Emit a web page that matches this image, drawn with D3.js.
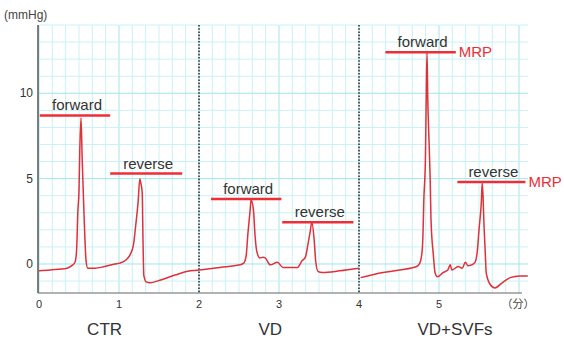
<!DOCTYPE html>
<html>
<head>
<meta charset="utf-8">
<script src="https://cdn.jsdelivr.net/npm/d3@7"></script>
<style>
  body { margin: 0; background: #fff; }
  text { font-family: "Liberation Sans", Arial, sans-serif; }
</style>
</head>
<body>
<script>
const width = 564, height = 340;

// trace values: [minutes, mmHg]
const ctrTrace = [[0,-0.4],[0.14,-0.35],[0.35,-0.25],[0.41,-0.1],[0.45,0.1],[0.47,0.8],[0.485,3.0],[0.5,4.3],[0.51,6.7],[0.525,8.55],[0.54,6.1],[0.55,4.7],[0.565,2.6],[0.59,0.1],[0.61,-0.25],[0.7,-0.25],[0.82,-0.15],[0.95,0],[1.01,0.05],[1.09,0.25],[1.14,0.55],[1.18,1.1],[1.21,2.3],[1.24,3.7],[1.26,5.0],[1.27,4.8],[1.29,4.2],[1.3,1.4],[1.31,-0.65],[1.34,-1.05],[1.39,-1.1],[1.51,-0.95],[1.7,-0.65],[1.89,-0.4],[2.01,-0.35]];
const vdTrace = [[2.01,-0.35],[2.26,-0.2],[2.51,-0.05],[2.56,0.05],[2.59,0.5],[2.61,1.7],[2.64,3.2],[2.65,3.75],[2.68,3.2],[2.7,1.7],[2.72,0.8],[2.76,0.35],[2.8,0.4],[2.83,0.35],[2.89,-0.05],[2.98,0.1],[3.05,-0.2],[3.23,-0.2],[3.29,0.2],[3.33,0.4],[3.36,1.1],[3.39,1.9],[3.41,2.45],[3.44,1.4],[3.46,0.1],[3.49,-0.45],[3.54,-0.5],[3.76,-0.4],[4.0,-0.25]];
const svfTrace = [[4.02,-0.8],[4.3,-0.5],[4.51,-0.35],[4.72,-0.15],[4.76,0.05],[4.79,0.8],[4.8,1.8],[4.81,3.7],[4.83,6.1],[4.84,9.6],[4.85,12.4],[4.86,9.6],[4.875,7.25],[4.89,4.9],[4.9,2.6],[4.93,0.5],[4.95,-0.5],[4.98,-0.75],[5.05,-0.5],[5.11,-0.35],[5.14,-0.05],[5.16,-0.35],[5.24,-0.15],[5.29,-0.25],[5.33,0.1],[5.36,-0.1],[5.41,-0.05],[5.45,0.1],[5.48,0.8],[5.5,2.0],[5.53,3.7],[5.54,4.75],[5.55,4.05],[5.56,2.6],[5.58,0.5],[5.59,-0.5],[5.64,-1.2],[5.7,-1.4],[5.79,-1.1],[5.89,-0.8],[6.01,-0.7],[6.11,-0.7]];

// annotation bars: label, from, to, level, mrp?
const marks = [
  ["forward", 0.01, 0.89, 8.7, false],
  ["reverse", 0.89, 1.79, 5.3, false],
  ["forward", 2.15, 3.03, 3.8, false],
  ["reverse", 3.04, 3.93, 2.45, false],
  ["forward", 4.33, 5.21, 12.4, true],
  ["reverse", 5.23, 6.08, 4.8, true]
];

const xTicks = [0, 1, 2, 3, 4, 5];
const yTicks = [0, 5, 10];
const dividers = [2, 4];
const groups = [["CTR", 0.82], ["VD", 2.89], ["VD+SVFs", 5.2]];

const pLeft = 39, pRight = 528, pTop = 25, pBottom = 293;
const x = d3.scaleLinear().domain([0, 1]).range([pLeft, pLeft + 80]);
const y = d3.scaleLinear().domain([-1.7, 14]).range([pBottom, pTop]);
const tMax = x.invert(pRight);

const svg = d3.select("body").append("svg")
    .attr("width", width)
    .attr("height", height)

// grid
const minor = d3.range(0, tMax, 1 / 6);
svg.append("g").selectAll("line")
    .data(minor)
    .enter()
    .append("line")
    .attr("x1", d => x(d)).attr("x2", d => x(d))
    .attr("y1", pTop).attr("y2", pBottom)
    .attr("stroke", d => Math.abs(d - Math.round(d)) < 0.01 ? "#9fe6ec" : "#c8f2f5")
    .attr("stroke-width", 1)
svg.append("g").selectAll("line")
    .data(d3.range(-1, 15, 1))
    .enter()
    .append("line")
    .attr("x1", pLeft).attr("x2", pRight)
    .attr("y1", d => y(d)).attr("y2", d => y(d))
    .attr("stroke", d => d % 5 === 0 ? "#9fe6ec" : "#c8f2f5")
    .attr("stroke-width", 1)

// dotted dividers
svg.append("g").selectAll("line")
    .data(dividers)
    .enter()
    .append("line")
    .attr("x1", d => x(d)).attr("x2", d => x(d))
    .attr("y1", pTop).attr("y2", pBottom)
    .attr("stroke", "#333")
    .attr("stroke-width", 1.6)
    .attr("stroke-dasharray", "1.6,1.6")

// axes lines
svg.append("line")
    .attr("x1", pLeft - 1).attr("x2", pLeft - 1)
    .attr("y1", pTop).attr("y2", pBottom)
    .attr("stroke", "#555").attr("stroke-width", 1.5)
svg.append("line")
    .attr("x1", pLeft - 1).attr("x2", pRight - 6)
    .attr("y1", pBottom).attr("y2", pBottom)
    .attr("stroke", "#666").attr("stroke-width", 1.2)

// tick labels
svg.append("g").selectAll("text")
    .data(yTicks)
    .enter()
    .append("text")
    .attr("x", pLeft - 6)
    .attr("y", d => y(d) + 4)
    .attr("text-anchor", "end")
    .attr("font-size", 12)
    .attr("fill", "#333")
    .text(d => d)
svg.append("g").selectAll("text")
    .data(xTicks)
    .enter()
    .append("text")
    .attr("x", d => x(d))
    .attr("y", pBottom + 15)
    .attr("text-anchor", "middle")
    .attr("font-size", 11)
    .attr("fill", "#333")
    .text(d => d)
svg.append("text")
    .attr("x", 518).attr("y", pBottom + 15)
    .attr("text-anchor", "middle")
    .attr("font-size", 11)
    .attr("fill", "#444")
    .style("font-family", "'Noto Sans CJK JP', sans-serif")
    .text("（分）")
svg.append("text")
    .attr("x", 4).attr("y", 19)
    .attr("font-size", 12)
    .attr("fill", "#444")
    .text("(mmHg)")

// group labels
svg.append("g").selectAll("text")
    .data(groups)
    .enter()
    .append("text")
    .attr("x", d => x(d[1]))
    .attr("y", 335)
    .attr("text-anchor", "middle")
    .attr("font-size", 17)
    .attr("fill", "#333")
    .text(d => d[0])

// traces
const line = d3.line().x(d => x(d[0])).y(d => y(d[1])).curve(d3.curveMonotoneX);
[ctrTrace, vdTrace, svfTrace].forEach(tr => {
    svg.append("path")
        .datum(tr)
        .attr("d", line)
        .attr("fill", "none")
        .attr("stroke", "#e0303a")
        .attr("stroke-width", 1.5)
})

// annotations
const ann = svg.append("g").selectAll("g")
    .data(marks)
    .enter()
    .append("g")
ann.append("line")
    .attr("x1", d => x(d[1])).attr("x2", d => x(d[2]))
    .attr("y1", d => y(d[3])).attr("y2", d => y(d[3]))
    .attr("stroke", "#ee2e36")
    .attr("stroke-width", 2.5)
ann.append("text")
    .attr("x", d => (x(d[1]) + x(d[2])) / 2 + 2)
    .attr("y", d => y(d[3]) - 5)
    .attr("text-anchor", "middle")
    .attr("font-size", 15)
    .attr("fill", "#333")
    .text(d => d[0])
ann.filter(d => d[4]).append("text")
    .attr("x", d => x(d[2]) + 3)
    .attr("y", d => y(d[3]) + 5)
    .attr("font-size", 15)
    .attr("fill", "#ee2e36")
    .text("MRP")
</script>
</body>
</html>
